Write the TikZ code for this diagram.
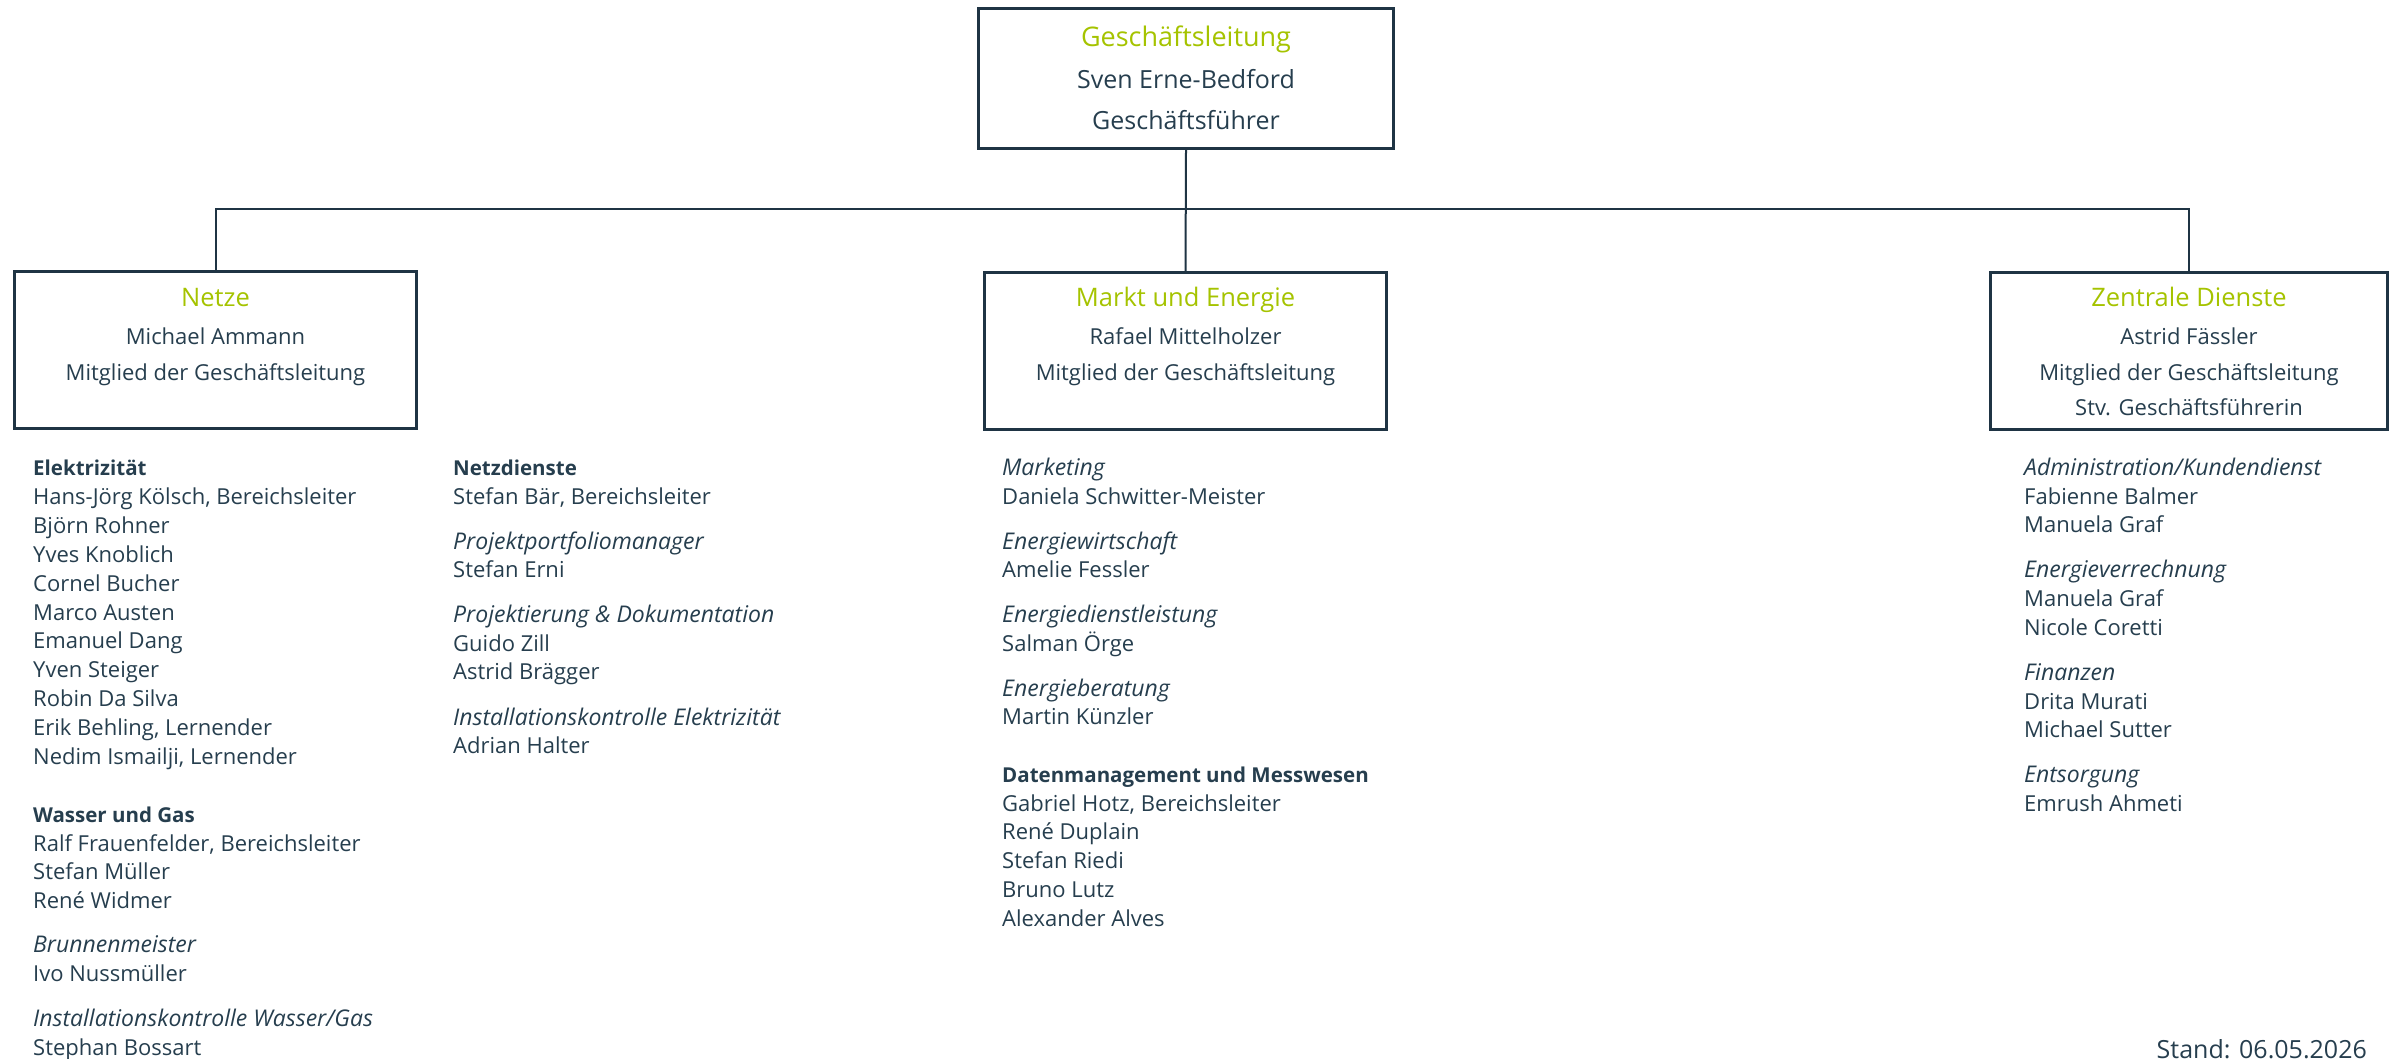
\documentclass[tikz,border=0pt]{standalone}
\usepackage{fontspec}
\setmainfont{Open Sans}
\usepackage{tikz}
\usetikzlibrary{positioning,calc}
\definecolor{orggreen}{HTML}{A5C300}
\definecolor{orgdark}{HTML}{1F3444}
\definecolor{orgtext}{HTML}{263E4E}
\tikzset{
    orgbox/.style={draw=orgdark, line width=2.7pt, minimum width=402pt, minimum height=157pt, inner sep=0pt},
    orgline/.style={draw=orgdark, line width=2pt},
    boxhead/.style={text=orggreen, font=\fontsize{25.5}{30}\selectfont, anchor=base, inner sep=0pt},
    boxtext/.style={text=orgtext, font=\fontsize{22}{28}\selectfont, anchor=base, inner sep=0pt},
    unithead/.style={text=orgtext, font=\bfseries\fontsize{20.5}{28}\selectfont, anchor=base west, inner sep=0pt},
    rolehead/.style={text=orgtext, font=\itshape\fontsize{23}{28}\selectfont, anchor=base west, inner sep=0pt},
    member/.style={text=orgtext, font=\fontsize{22}{28}\selectfont, anchor=base west, inner sep=0pt},
}

\begin{document}
\begin{tikzpicture}[x=1pt, y=-1pt]
    \useasboundingbox (0,0) rectangle (2399,1058);

    \node[orgbox, minimum width=415pt, minimum height=140pt] (gl) at (1186,78.5) {};
    \node[orgbox] (netze) at (215.5,350) {};
    \node[orgbox] (markt) at (1185.5,351) {};
    \node[orgbox, minimum width=397pt] (zentral) at (2189,351) {};

    \draw[orgline] (gl.south) -- (markt.north);
    \draw[orgline] (netze.north) -- ++(0,-61) -| (zentral.north);

    \node[boxhead, font=\fontsize{27}{32}\selectfont] (gl-head) at (1186,46) {Geschäftsleitung};
    \node[boxtext, font=\fontsize{25}{30}\selectfont] (gl-name) at (1186,88) {Sven Erne-Bedford};
    \node[boxtext, font=\fontsize{25}{30}\selectfont] (gl-role) at (1186,129) {Geschäftsführer};

    \node[boxhead] (netze-head) at (netze.center |- 0,306) {Netze};
    \node[boxtext] (netze-name) at (netze.center |- 0,344) {Michael Ammann};
    \node[boxtext] (netze-role) at (netze.center |- 0,380) {Mitglied der Geschäftsleitung};

    \node[boxhead] (markt-head) at (markt.center |- 0,306) {Markt und Energie};
    \node[boxtext] (markt-name) at (markt.center |- 0,344) {Rafael Mittelholzer};
    \node[boxtext] (markt-role) at (markt.center |- 0,380) {Mitglied der Geschäftsleitung};

    \node[boxhead] (zentral-head) at (zentral.center |- 0,306) {Zentrale Dienste};
    \node[boxtext] (zentral-name) at (zentral.center |- 0,344) {Astrid Fässler};
    \node[boxtext] (zentral-role) at (zentral.center |- 0,380) {Mitglied der Geschäftsleitung};
    \node[boxtext] (zentral-stv) at (zentral.center |- 0,415) {Stv. Geschäftsführerin};

    \foreach \y/\txt/\kind in {475/Elektrizität/unithead, 504/{Hans-Jörg Kölsch, Bereichsleiter}/member,
        533/Björn Rohner/member, 562/Yves Knoblich/member, 591/Cornel Bucher/member,
        620/Marco Austen/member, 648/Emanuel Dang/member, 677/Yven Steiger/member,
        706/Robin Da Silva/member, 735/{Erik Behling, Lernender}/member, 764/{Nedim Ismailji, Lernender}/member,
        822/Wasser und Gas/unithead, 851/{Ralf Frauenfelder, Bereichsleiter}/member,
        879/Stefan Müller/member, 908/René Widmer/member,
        952/Brunnenmeister/rolehead, 981/Ivo Nussmüller/member,
        1026/{Installationskontrolle Wasser/Gas}/rolehead, 1055/Stephan Bossart/member}
        \node[\kind] (netze-\y) at (33,\y) {\txt};

    \foreach \y/\txt/\kind in {475/Netzdienste/unithead, 504/{Stefan Bär, Bereichsleiter}/member,
        549/Projektportfoliomanager/rolehead, 577/Stefan Erni/member,
        622/Projektierung \& Dokumentation/rolehead, 651/Guido Zill/member, 679/Astrid Brägger/member,
        725/Installationskontrolle Elektrizität/rolehead, 753/Adrian Halter/member}
        \node[\kind] (dienste-\y) at (453,\y) {\txt};

    \foreach \y/\txt/\kind in {475/Marketing/rolehead, 504/Daniela Schwitter-Meister/member,
        549/Energiewirtschaft/rolehead, 577/Amelie Fessler/member,
        622/Energiedienstleistung/rolehead, 651/Salman Örge/member,
        696/Energieberatung/rolehead, 724/Martin Künzler/member,
        782/Datenmanagement und Messwesen/unithead, 811/{Gabriel Hotz, Bereichsleiter}/member,
        839/René Duplain/member, 868/Stefan Riedi/member, 897/Bruno Lutz/member, 926/Alexander Alves/member}
        \node[\kind] (markt-\y) at (1002,\y) {\txt};

    \foreach \y/\txt/\kind in {475/{Administration/Kundendienst}/rolehead, 504/Fabienne Balmer/member,
        532/Manuela Graf/member, 577/Energieverrechnung/rolehead, 606/Manuela Graf/member,
        635/Nicole Coretti/member, 680/Finanzen/rolehead, 709/Drita Murati/member,
        737/Michael Sutter/member, 782/Entsorgung/rolehead, 811/Emrush Ahmeti/member}
        \node[\kind] (zentral-\y) at (2024,\y) {\txt};

    \node[member, anchor=base east, font=\fontsize{25}{30}\selectfont] (stand) at (2367,1058) {Stand: 06.05.2026};
\end{tikzpicture}
\end{document}
